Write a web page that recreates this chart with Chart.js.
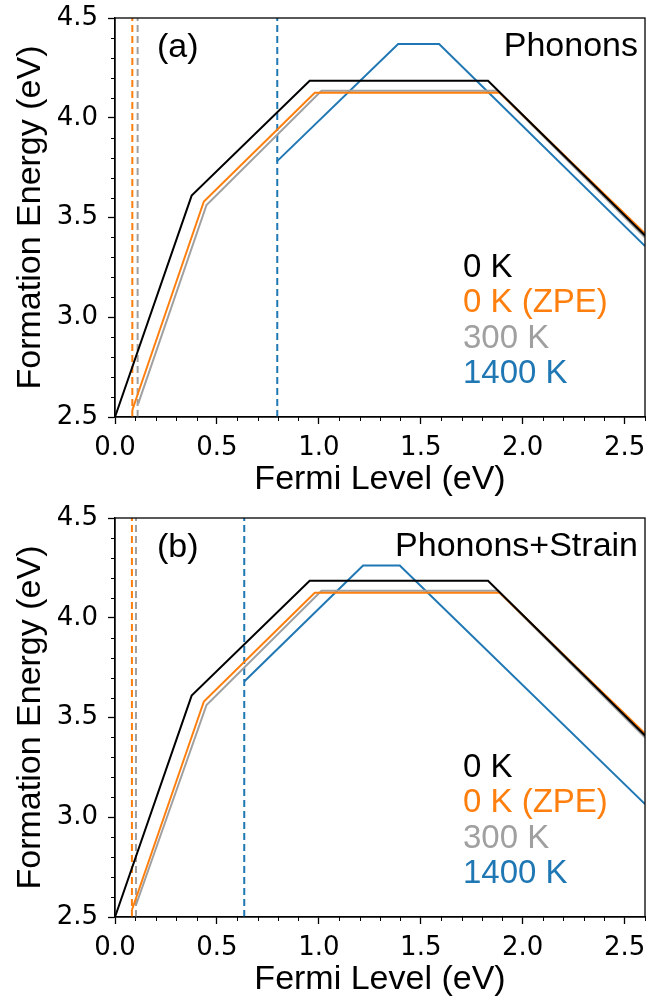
<!DOCTYPE html>
<html>
<head>
<meta charset="utf-8">
<script src="https://cdn.jsdelivr.net/npm/chart.js@4.4.0/dist/chart.umd.min.js"></script>
<style>
    html, body { margin: 0; padding: 0; background: #fff; }
    canvas { display: block; }
</style>
</head>
<body>
<canvas id="chartA" width="647" height="500"></canvas>
<canvas id="chartB" width="647" height="504"></canvas>
<script>
// ===== Datos =====
const xTicks = [0, 0.5, 1.0, 1.5, 2.0, 2.5];
const yTicks = [2.5, 3.0, 3.5, 4.0, 4.5];
const seriesLabels = ['0 K', '0 K (ZPE)', '300 K', '1400 K'];
const seriesColors = ['#000000', '#ff7f0e', '#a0a0a0', '#1f77b4'];

// (a) Phonons
const a0KFermi = [0, 0.376, 0.955, 1.830, 2.6];
const a0KEnergy = [2.5, 3.61, 4.185, 4.185, 3.41];
const aZpeFermi = [0.085, 0.436, 0.98, 1.887, 2.6];
const aZpeEnergy = [2.535, 3.58, 4.125, 4.125, 3.42];
const a300Fermi = [0.114, 0.449, 1.013, 1.877, 2.6];
const a300Energy = [2.567, 3.563, 4.135, 4.135, 3.40];
const a1400Fermi = [0.793, 1.389, 1.590, 2.6];
const a1400Energy = [3.78, 4.37, 4.37, 3.357];
const aPinning = [0.085, 0.111, 0.796]; // ZPE, 300 K, 1400 K

// (b) Phonons+Strain
const b0KFermi = [0, 0.376, 0.955, 1.830, 2.6];
const b0KEnergy = [2.5, 3.61, 4.185, 4.185, 3.41];
const bZpeFermi = [0.083, 0.436, 0.98, 1.887, 2.6];
const bZpeEnergy = [2.535, 3.58, 4.125, 4.125, 3.42];
const b300Fermi = [0.103, 0.449, 1.013, 1.877, 2.6];
const b300Energy = [2.56, 3.563, 4.135, 4.135, 3.40];
const b1400Fermi = [0.634, 1.217, 1.397, 2.6];
const b1400Energy = [3.68, 4.262, 4.262, 3.066];
const bPinning = [0.083, 0.103, 0.634];

const tickFont = { family: 'DejaVu Sans', size: 26 };
const labelFont = 'Liberation Sans';

function solidLine(xs, ys, color) {
    return {
        data: xs.map((x, i) => ({ x: x, y: ys[i] })),
        borderColor: color,
        borderWidth: 2,
        pointRadius: 0,
        tension: 0,
        fill: false
    };
}

function dashedLine(x, color) {
    return {
        data: [{ x: x, y: yTicks[0] }, { x: x, y: yTicks[yTicks.length - 1] }],
        borderColor: color,
        borderWidth: 2,
        borderDash: [7, 4],
        pointRadius: 0,
        fill: false
    };
}

// marco, ticks menores y textos
const panelDecor = {
    id: 'panelDecor',
    afterDraw(chart, args, opts) {
        const ctx = chart.ctx;
        const { left, right, top, bottom } = chart.chartArea;
        const xs = chart.scales.x, ys = chart.scales.y;
        ctx.save();
        ctx.strokeStyle = '#000';
        ctx.lineWidth = 1.3;
        ctx.strokeRect(left, top, right - left, bottom - top);

        ctx.lineWidth = 1;
        ctx.beginPath();
        for (let i = 1; i <= 26; i++) {
            if (i % 5 === 0) continue;
            const px = Math.round(xs.getPixelForValue(i / 10)) + 0.5;
            ctx.moveTo(px, bottom);
            ctx.lineTo(px, bottom + 4);
        }
        for (let i = 26; i <= 44; i++) {
            if (i % 5 === 0) continue;
            const py = Math.round(ys.getPixelForValue(i / 10)) + 0.5;
            ctx.moveTo(left, py);
            ctx.lineTo(left - 4, py);
        }
        ctx.stroke();

        ctx.font = `34px "${labelFont}"`;
        ctx.textBaseline = 'middle';
        ctx.fillStyle = '#000';
        ctx.textAlign = 'left';
        ctx.fillText(opts.tag, left + 42, top + 30);
        ctx.textAlign = 'right';
        ctx.fillText(opts.title, right - 7, top + 29);

        ctx.font = `33px "${labelFont}"`;
        ctx.textAlign = 'left';
        seriesLabels.forEach((lbl, i) => {
            ctx.fillStyle = seriesColors[i];
            ctx.fillText(lbl, left + 348, top + 250 + i * 35.3);
        });
        ctx.restore();
    }
};

function buildPanel(canvasId, lines, pinning, tag, title) {
    const canvas = document.getElementById(canvasId);
    const datasets = [];
    lines.forEach((l, i) => datasets.push(solidLine(l[0], l[1], seriesColors[i])));
    pinning.forEach((x, i) => datasets.push(dashedLine(x, seriesColors[i + 1])));

    return new Chart(canvas.getContext('2d'), {
        type: 'line',
        data: { datasets: datasets },
        plugins: [panelDecor],
        options: {
            responsive: false,
            animation: false,
            layout: { padding: { top: 18, right: 2, left: 0, bottom: canvas.height - 500 } },
            plugins: {
                legend: { display: false },
                tooltip: { enabled: false },
                panelDecor: { tag: tag, title: title }
            },
            scales: {
                x: {
                    type: 'linear',
                    min: 0,
                    max: 2.6,
                    afterBuildTicks: s => { s.ticks = xTicks.map(v => ({ value: v })); },
                    afterFit: s => { s.height = 83; s.paddingLeft = 0; s.paddingRight = 0; },
                    ticks: {
                        font: tickFont, color: '#000', padding: 9,
                        maxRotation: 0, autoSkip: false,
                        callback: v => Number(v).toFixed(1)
                    },
                    grid: { drawOnChartArea: false, drawTicks: true, tickLength: 7, tickWidth: 1.3, tickColor: '#000' },
                    border: { display: true, color: '#000', width: 1.3 },
                    title: {
                        display: true, text: 'Fermi Level (eV)', color: '#000',
                        font: { family: labelFont, size: 34 },
                        padding: { top: 0, bottom: 0 }
                    }
                },
                y: {
                    type: 'linear',
                    min: 2.5,
                    max: 4.5,
                    afterBuildTicks: s => { s.ticks = yTicks.map(v => ({ value: v })); },
                    afterFit: s => { s.width = 115; s.paddingTop = 0; s.paddingBottom = 0; },
                    ticks: {
                        font: tickFont, color: '#000', padding: 10,
                        autoSkip: false,
                        callback: v => Number(v).toFixed(1)
                    },
                    grid: { drawOnChartArea: false, drawTicks: true, tickLength: 7, tickWidth: 1.3, tickColor: '#000' },
                    border: { display: true, color: '#000', width: 1.3 },
                    title: {
                        display: true, text: 'Formation Energy (eV)', color: '#000',
                        font: { family: labelFont, size: 34 },
                        padding: { top: 10, bottom: 0 }
                    }
                }
            }
        }
    });
}

buildPanel('chartA',
    [[a0KFermi, a0KEnergy], [aZpeFermi, aZpeEnergy], [a300Fermi, a300Energy], [a1400Fermi, a1400Energy]],
    aPinning, '(a)', 'Phonons');
buildPanel('chartB',
    [[b0KFermi, b0KEnergy], [bZpeFermi, bZpeEnergy], [b300Fermi, b300Energy], [b1400Fermi, b1400Energy]],
    bPinning, '(b)', 'Phonons+Strain');
</script>
</body>
</html>
